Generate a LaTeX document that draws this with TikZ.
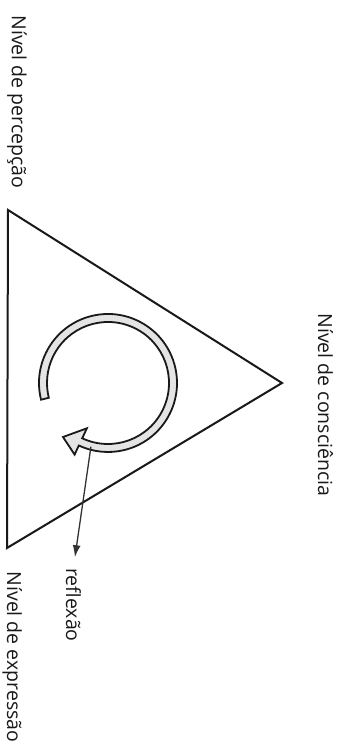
\documentclass[tikz,border=0pt]{standalone}
\usepackage{fontspec}
\setmainfont{Open Sans}
\usepackage{tikz}
\usetikzlibrary{arrows.meta}
\definecolor{lnblack}{RGB}{25, 25, 25}
\definecolor{bandgray}{RGB}{228, 228, 228}
\definecolor{tipgray}{RGB}{50, 50, 50}

\begin{document}
\begin{tikzpicture}[
    x=1pt, y=1pt,
    tri/.style={draw=lnblack, line width=2pt, line join=miter},
    swirl/.style={draw=lnblack, line width=1.8pt, fill=bandgray, line join=miter},
    lbl/.style={rotate=-90, anchor=base, inner sep=0pt, text=lnblack,
        font=\fontsize{19.5}{22}\selectfont},
    arr/.style={-{Latex[length=12pt, width=8pt]}, line width=1.3pt, draw=lnblack,
        color=tipgray, shorten >=11pt}
]
\useasboundingbox (0,0) rectangle (342,749);

\coordinate (ptop) at (8,539);
\coordinate (pbot) at (7,201);
\coordinate (pcon) at (282,366);
\coordinate (ctr) at (108,366);

\draw[tri] (ptop) -- (pcon) -- (pbot) -- cycle;

\draw[swirl] ([shift={(194:69)}]ctr) arc[start angle=194, end angle=-115, radius=69]
    -- ([shift={(-115:79)}]ctr) -- ([shift={(-45,-54)}]ctr)
    -- ([shift={(-115:50)}]ctr) -- ([shift={(-115:61)}]ctr)
    arc[start angle=-115, end angle=194, radius=61] -- cycle;

\node[lbl] (perc) at (12,647) {Nível de percepção};
\node[lbl] (expr) at (7,92) {Nível de expressão};
\node[lbl] (consc) at (318,344) {Nível de consciência};
\node[lbl] (refl) at (66,144) {reflexão};

\coordinate (src) at ([shift={(-105:66)}]ctr);
\draw[arr] (src) -- (refl.west);
\end{tikzpicture}
\end{document}
